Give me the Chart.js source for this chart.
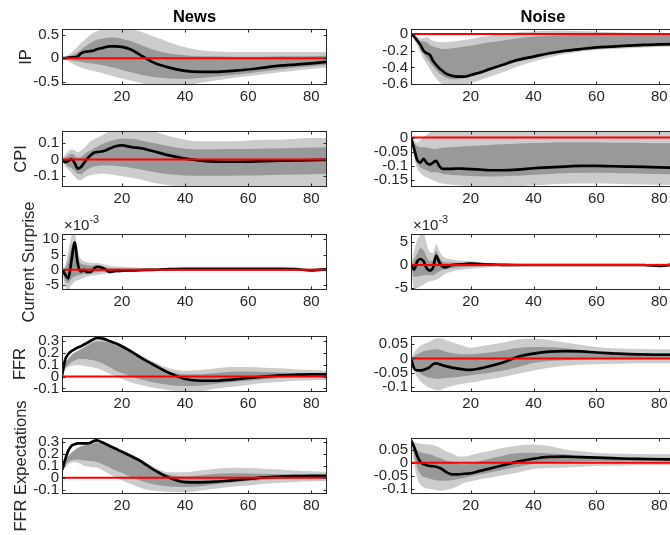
<!DOCTYPE html>
<html>
<head>
<meta charset="utf-8">
<script src="https://cdn.jsdelivr.net/npm/chart.js@4.4.1/dist/chart.umd.min.js"></script>
<style>
  html, body { margin: 0; padding: 0; background: #fff; }
  body { width: 670px; height: 535px; position: relative; overflow: hidden; }
  canvas { position: absolute; }
</style>
</head>
<body>
<script>
const FONT = '"Liberation Sans", Arial, Helvetica, sans-serif';
const INK = '#262626';
const LIGHT = '#cccccc';
const DARK = '#999999';

// horizon (months) shared by every response
const horizon = [1,2,3,4,5,6,7,8,9,10,11,12,14,16,18,20,23,26,30,35,40,45,50,55,60,65,70,75,80,85];
const xTicks = [20, 40, 60, 80];
const zeroSpan = [1, 85];
const zeroLine = [0, 0];

// IP
const ipNewsMed   = [0,0,0.01,0.02,0.02,0.04,0.1,0.13,0.14,0.15,0.16,0.19,0.22,0.25,0.25,0.24,0.18,0.06,-0.09,-0.2,-0.27,-0.29,-0.29,-0.27,-0.24,-0.2,-0.16,-0.135,-0.11,-0.08];
const ipNewsOutHi = [0,0.03,0.07,0.12,0.18,0.25,0.32,0.38,0.44,0.5,0.54,0.57,0.61,0.64,0.65,0.65,0.62,0.56,0.46,0.34,0.23,0.17,0.14,0.13,0.13,0.13,0.13,0.13,0.13,0.13];
const ipNewsOutLo = [0,-0.03,-0.07,-0.1,-0.14,-0.17,-0.2,-0.22,-0.24,-0.26,-0.27,-0.29,-0.32,-0.36,-0.4,-0.43,-0.48,-0.53,-0.58,-0.6,-0.57,-0.52,-0.47,-0.42,-0.38,-0.34,-0.3,-0.26,-0.23,-0.2];
const ipNewsInHi  = [0,0.01,0.03,0.06,0.09,0.13,0.18,0.23,0.28,0.32,0.36,0.39,0.42,0.44,0.44,0.41,0.36,0.28,0.18,0.1,0.06,0.04,0.04,0.03,0.03,0.03,0.04,0.04,0.04,0.05];
const ipNewsInLo  = [0,-0.01,-0.03,-0.05,-0.06,-0.07,-0.08,-0.09,-0.1,-0.11,-0.12,-0.13,-0.15,-0.18,-0.21,-0.25,-0.3,-0.35,-0.4,-0.43,-0.44,-0.42,-0.39,-0.36,-0.32,-0.28,-0.24,-0.2,-0.17,-0.14];

const ipNoiseMed   = [0,-0.03,-0.08,-0.13,-0.2,-0.23,-0.25,-0.32,-0.37,-0.41,-0.44,-0.47,-0.5,-0.51,-0.51,-0.49,-0.46,-0.42,-0.37,-0.31,-0.27,-0.23,-0.2,-0.18,-0.16,-0.15,-0.14,-0.13,-0.125,-0.12];
const ipNoiseOutHi = [0,-0.02,-0.04,-0.05,-0.05,-0.04,-0.06,-0.08,-0.09,-0.1,-0.1,-0.1,-0.09,-0.08,-0.07,-0.06,-0.04,-0.02,0,0.02,0.03,0.04,0.04,0.035,0.03,0.02,0.015,0.01,0.01,0.005];
const ipNoiseOutLo = [0,-0.06,-0.14,-0.22,-0.3,-0.36,-0.42,-0.48,-0.53,-0.57,-0.6,-0.62,-0.63,-0.63,-0.62,-0.59,-0.55,-0.51,-0.46,-0.39,-0.33,-0.28,-0.24,-0.21,-0.19,-0.18,-0.17,-0.16,-0.155,-0.15];
const ipNoiseInHi  = [0,-0.03,-0.06,-0.08,-0.09,-0.1,-0.13,-0.15,-0.16,-0.17,-0.18,-0.18,-0.17,-0.16,-0.15,-0.14,-0.12,-0.1,-0.08,-0.05,-0.03,-0.02,-0.015,-0.01,-0.01,-0.01,-0.012,-0.012,-0.013,-0.015];
const ipNoiseInLo  = [0,-0.04,-0.1,-0.18,-0.24,-0.29,-0.34,-0.39,-0.43,-0.47,-0.5,-0.52,-0.54,-0.54,-0.53,-0.51,-0.48,-0.44,-0.39,-0.33,-0.29,-0.25,-0.22,-0.19,-0.175,-0.16,-0.15,-0.145,-0.14,-0.135];

// CPI
const cpiNewsMed   = [0,-0.015,-0.008,0.003,-0.02,-0.055,-0.045,-0.02,0.005,0.025,0.04,0.045,0.05,0.065,0.08,0.085,0.075,0.068,0.05,0.025,0.006,-0.006,-0.012,-0.013,-0.012,-0.009,-0.007,-0.005,-0.003,-0.002];
const cpiNewsOutHi = [0,0.03,0.05,0.06,0.055,0.045,0.055,0.07,0.09,0.11,0.12,0.13,0.15,0.17,0.19,0.2,0.2,0.19,0.17,0.14,0.12,0.11,0.11,0.11,0.115,0.12,0.12,0.125,0.13,0.13];
const cpiNewsOutLo = [0,-0.04,-0.06,-0.08,-0.1,-0.12,-0.125,-0.11,-0.1,-0.095,-0.09,-0.088,-0.086,-0.088,-0.095,-0.1,-0.11,-0.12,-0.14,-0.155,-0.165,-0.17,-0.17,-0.17,-0.17,-0.17,-0.17,-0.17,-0.165,-0.16];
const cpiNewsInHi  = [0,0.012,0.025,0.035,0.025,0.012,0.015,0.03,0.045,0.055,0.065,0.075,0.095,0.11,0.12,0.125,0.125,0.115,0.1,0.08,0.065,0.062,0.062,0.063,0.064,0.066,0.068,0.07,0.072,0.074];
const cpiNewsInLo  = [0,-0.025,-0.04,-0.05,-0.07,-0.085,-0.088,-0.075,-0.06,-0.05,-0.042,-0.038,-0.036,-0.036,-0.038,-0.042,-0.05,-0.06,-0.075,-0.088,-0.096,-0.098,-0.098,-0.097,-0.096,-0.094,-0.092,-0.09,-0.088,-0.086];

const cpiNoiseMed   = [0,-0.04,-0.08,-0.088,-0.075,-0.09,-0.095,-0.088,-0.082,-0.1,-0.11,-0.11,-0.11,-0.109,-0.11,-0.111,-0.113,-0.115,-0.115,-0.113,-0.108,-0.105,-0.102,-0.1,-0.1,-0.101,-0.102,-0.103,-0.105,-0.106];
const cpiNoiseOutHi = [0,-0.01,-0.015,-0.01,0,0.01,0.018,0.025,0.03,0.03,0.03,0.03,0.03,0.03,0.03,0.03,0.03,0.03,0.03,0.03,0.03,0.03,0.03,0.03,0.03,0.03,0.03,0.03,0.03,0.03];
const cpiNoiseOutLo = [0,-0.07,-0.11,-0.125,-0.135,-0.14,-0.145,-0.15,-0.155,-0.16,-0.162,-0.164,-0.166,-0.168,-0.17,-0.17,-0.172,-0.175,-0.175,-0.172,-0.168,-0.165,-0.163,-0.162,-0.162,-0.163,-0.164,-0.165,-0.166,-0.167];
const cpiNoiseInHi  = [0,-0.02,-0.03,-0.035,-0.033,-0.035,-0.038,-0.04,-0.04,-0.038,-0.036,-0.035,-0.033,-0.032,-0.031,-0.03,-0.028,-0.026,-0.024,-0.021,-0.019,-0.018,-0.017,-0.017,-0.017,-0.018,-0.018,-0.019,-0.02,-0.02];
const cpiNoiseInLo  = [0,-0.055,-0.09,-0.105,-0.11,-0.115,-0.12,-0.122,-0.122,-0.124,-0.127,-0.13,-0.132,-0.133,-0.134,-0.135,-0.136,-0.137,-0.136,-0.134,-0.131,-0.128,-0.126,-0.125,-0.124,-0.125,-0.126,-0.127,-0.128,-0.129];

// Current surprise, in units of 1e-3
const surpNewsMed   = [0,-1.5,-2.8,3,9,2,-0.5,0,-0.8,-0.8,0.2,1,0.6,-0.7,-0.4,-0.3,-0.2,-0.1,0,0.2,0.3,0.3,0.3,0.3,0.3,0.3,0.3,0.2,-0.2,0.2];
const surpNewsOutHi = [0,1.5,6,11,12,6,3.5,2.8,2.5,2.3,2.2,2.2,1.8,1.3,1.1,1,0.8,0.6,0.5,0.4,0.4,0.4,0.4,0.4,0.4,0.4,0.4,0.4,0.5,0.6];
const surpNewsOutLo = [0,-5.5,-6.5,-5,-3.8,-3.4,-3,-2.5,-2.2,-2,-1.8,-1.7,-1.4,-1.1,-0.9,-0.8,-0.6,-0.5,-0.4,-0.3,-0.3,-0.3,-0.3,-0.3,-0.3,-0.3,-0.3,-0.3,-0.4,-0.5];
const surpNewsInHi  = [0,0.5,3,7.5,9.5,4,2,1.7,1.5,1.4,1.4,1.4,1,0.6,0.5,0.45,0.4,0.35,0.3,0.3,0.3,0.3,0.3,0.3,0.3,0.3,0.3,0.3,0.3,0.3];
const surpNewsInLo  = [0,-3.5,-4.3,-3,-2.2,-1.8,-1.6,-1.4,-1.2,-1,-0.9,-0.8,-0.6,-0.5,-0.4,-0.35,-0.3,-0.2,-0.1,-0.1,-0.1,-0.1,-0.1,-0.1,-0.1,-0.1,-0.1,-0.1,-0.1,-0.1];

const surpNoiseMed   = [0,-1,0.8,1.3,0.8,-0.7,-1.2,-0.6,2,0.6,-0.3,-0.5,0,0.1,0.2,0.3,0.2,0.1,0.05,0,0,0,0,0,0,0,0,0,-0.2,0.2];
const surpNoiseOutHi = [0,3,5.5,6.5,6.8,4.5,2.8,2.6,4.5,3,2,1.5,1.2,1,0.9,0.8,0.6,0.45,0.35,0.25,0.2,0.2,0.2,0.2,0.2,0.2,0.2,0.2,0.3,0.4];
const surpNoiseOutLo = [0,-5.2,-5,-4.6,-4.2,-3.8,-3.5,-3.4,-3.2,-2.8,-2.3,-1.9,-1.4,-1.1,-0.9,-0.8,-0.6,-0.5,-0.4,-0.3,-0.25,-0.25,-0.25,-0.25,-0.25,-0.25,-0.25,-0.25,-0.35,-0.4];
const surpNoiseInHi  = [0,1.2,2.5,3.6,3.2,1.8,0.8,1.2,3,1.6,0.8,0.6,0.55,0.5,0.5,0.45,0.35,0.25,0.2,0.15,0.12,0.12,0.12,0.12,0.12,0.12,0.12,0.12,0.15,0.2];
const surpNoiseInLo  = [0,-2.6,-2.5,-2.3,-2.2,-2.1,-2.2,-2.2,-1.8,-1.4,-1,-0.9,-0.7,-0.55,-0.45,-0.4,-0.3,-0.25,-0.2,-0.15,-0.12,-0.12,-0.12,-0.12,-0.12,-0.12,-0.12,-0.12,-0.15,-0.2];

// FFR
const ffrNewsMed   = [0.01,0.14,0.19,0.215,0.23,0.245,0.255,0.27,0.285,0.3,0.315,0.325,0.32,0.3,0.28,0.255,0.21,0.16,0.1,0.03,-0.02,-0.035,-0.035,-0.025,-0.012,0,0.01,0.015,0.018,0.018];
const ffrNewsOutHi = [0.01,0.1,0.15,0.18,0.2,0.22,0.235,0.25,0.27,0.285,0.3,0.31,0.31,0.3,0.285,0.265,0.225,0.18,0.125,0.07,0.05,0.055,0.07,0.08,0.08,0.075,0.07,0.06,0.055,0.05];
const ffrNewsOutLo = [0,0.06,0.08,0.09,0.095,0.095,0.095,0.09,0.085,0.08,0.075,0.07,0.05,0.025,0,-0.02,-0.05,-0.07,-0.095,-0.115,-0.13,-0.125,-0.1,-0.085,-0.07,-0.055,-0.045,-0.035,-0.03,-0.028];
const ffrNewsInHi  = [0.01,0.11,0.15,0.18,0.2,0.215,0.23,0.245,0.26,0.275,0.29,0.295,0.295,0.285,0.265,0.245,0.205,0.16,0.1,0.045,0.02,0.02,0.03,0.04,0.042,0.038,0.034,0.03,0.027,0.025];
const ffrNewsInLo  = [0,0.07,0.1,0.12,0.135,0.145,0.148,0.148,0.145,0.14,0.138,0.13,0.11,0.08,0.05,0.03,0,-0.025,-0.05,-0.07,-0.08,-0.075,-0.06,-0.045,-0.035,-0.022,-0.012,-0.006,-0.003,-0.002];

const ffrNoiseMed   = [0,-0.035,-0.042,-0.042,-0.04,-0.036,-0.03,-0.02,-0.017,-0.02,-0.024,-0.027,-0.032,-0.036,-0.039,-0.04,-0.035,-0.027,-0.015,0.006,0.017,0.024,0.026,0.025,0.021,0.018,0.015,0.014,0.013,0.013];
const ffrNoiseOutHi = [0,0.02,0.035,0.045,0.05,0.055,0.06,0.066,0.07,0.072,0.07,0.065,0.058,0.05,0.043,0.038,0.043,0.048,0.055,0.067,0.07,0.065,0.056,0.048,0.04,0.036,0.034,0.033,0.032,0.032];
const ffrNoiseOutLo = [0,-0.045,-0.065,-0.08,-0.09,-0.098,-0.104,-0.108,-0.111,-0.112,-0.108,-0.104,-0.097,-0.092,-0.088,-0.085,-0.079,-0.073,-0.066,-0.054,-0.042,-0.033,-0.026,-0.022,-0.02,-0.019,-0.018,-0.017,-0.017,-0.017];
const ffrNoiseInHi  = [0,0.008,0.015,0.02,0.025,0.028,0.03,0.031,0.032,0.031,0.028,0.024,0.019,0.016,0.015,0.015,0.017,0.021,0.027,0.037,0.04,0.039,0.036,0.03,0.024,0.021,0.02,0.019,0.018,0.018];
const ffrNoiseInLo  = [0,-0.03,-0.043,-0.052,-0.06,-0.065,-0.068,-0.07,-0.071,-0.071,-0.07,-0.069,-0.067,-0.065,-0.062,-0.059,-0.055,-0.05,-0.043,-0.03,-0.016,-0.009,-0.006,-0.004,-0.002,-0.001,0,0,0.001,0.001];

// FFR expectations
const expNewsMed   = [0.065,0.15,0.225,0.265,0.278,0.285,0.285,0.285,0.285,0.29,0.305,0.31,0.29,0.265,0.24,0.216,0.178,0.137,0.068,0,-0.036,-0.038,-0.033,-0.022,-0.01,0.003,0.01,0.014,0.016,0.016];
const expNewsOutHi = [0.065,0.12,0.17,0.2,0.22,0.24,0.255,0.265,0.275,0.285,0.295,0.3,0.29,0.27,0.25,0.23,0.19,0.15,0.09,0.045,0.045,0.06,0.074,0.082,0.08,0.075,0.068,0.06,0.053,0.047];
const expNewsOutLo = [0.03,0.08,0.11,0.125,0.13,0.125,0.115,0.1,0.095,0.09,0.088,0.085,0.06,0.03,0.005,-0.02,-0.055,-0.085,-0.108,-0.118,-0.12,-0.105,-0.09,-0.075,-0.065,-0.05,-0.042,-0.035,-0.03,-0.027];
const expNewsInHi  = [0.065,0.13,0.18,0.21,0.23,0.25,0.262,0.27,0.275,0.28,0.285,0.29,0.275,0.255,0.235,0.215,0.175,0.135,0.075,0.025,0.011,0.02,0.033,0.038,0.036,0.033,0.03,0.028,0.026,0.025];
const expNewsInLo  = [0.05,0.1,0.13,0.145,0.15,0.15,0.148,0.145,0.14,0.138,0.137,0.13,0.11,0.085,0.06,0.04,0.005,-0.025,-0.055,-0.072,-0.077,-0.07,-0.055,-0.04,-0.028,-0.016,-0.01,-0.006,-0.004,-0.003];

const expNoiseMed   = [0.087,0.06,0.025,0.003,-0.006,-0.01,-0.013,-0.014,-0.016,-0.02,-0.026,-0.035,-0.045,-0.045,-0.043,-0.041,-0.032,-0.023,-0.011,0.004,0.015,0.022,0.023,0.021,0.019,0.017,0.015,0.014,0.013,0.012];
const expNoiseOutHi = [0.087,0.08,0.075,0.073,0.072,0.071,0.07,0.068,0.064,0.058,0.052,0.045,0.035,0.024,0.024,0.028,0.038,0.045,0.056,0.066,0.07,0.064,0.051,0.044,0.038,0.035,0.034,0.033,0.032,0.032];
const expNoiseOutLo = [0.087,-0.005,-0.06,-0.085,-0.095,-0.1,-0.102,-0.104,-0.106,-0.108,-0.108,-0.106,-0.1,-0.09,-0.078,-0.072,-0.064,-0.058,-0.05,-0.038,-0.025,-0.021,-0.019,-0.016,-0.013,-0.012,-0.011,-0.01,-0.01,-0.01];
const expNoiseInHi  = [0.087,0.07,0.05,0.04,0.036,0.034,0.032,0.028,0.022,0.019,0.014,0.008,0.002,-0.004,-0.006,-0.004,0.006,0.015,0.026,0.037,0.038,0.035,0.032,0.027,0.023,0.021,0.02,0.019,0.019,0.019];
const expNoiseInLo  = [0.087,0.03,-0.02,-0.045,-0.055,-0.058,-0.062,-0.065,-0.068,-0.07,-0.07,-0.07,-0.068,-0.063,-0.058,-0.053,-0.045,-0.038,-0.028,-0.016,-0.004,0.002,0.003,0.005,0.006,0.006,0.006,0.006,0.006,0.006];

const panels = [
  { row: 0, col: 0, title: 'News', label: 'IP', labelPad: 17, yMin: -0.57, yMax: 0.62, yTicks: [-0.5, 0, 0.5],
    med: ipNewsMed, outHi: ipNewsOutHi, outLo: ipNewsOutLo, inHi: ipNewsInHi, inLo: ipNewsInLo },
  { row: 0, col: 1, title: 'Noise', yMin: -0.61, yMax: 0.06, yTicks: [-0.6, -0.4, -0.2, 0],
    med: ipNoiseMed, outHi: ipNoiseOutHi, outLo: ipNoiseOutLo, inHi: ipNoiseInHi, inLo: ipNoiseInLo },
  { row: 1, col: 0, label: 'CPI', labelPad: 11.5, yMin: -0.165, yMax: 0.172, yTicks: [-0.1, 0, 0.1],
    med: cpiNewsMed, outHi: cpiNewsOutHi, outLo: cpiNewsOutLo, inHi: cpiNewsInHi, inLo: cpiNewsInLo },
  { row: 1, col: 1, yMin: -0.174, yMax: 0.023, yTicks: [-0.15, -0.1, -0.05, 0],
    med: cpiNoiseMed, outHi: cpiNoiseOutHi, outLo: cpiNoiseOutLo, inHi: cpiNoiseInHi, inLo: cpiNoiseInLo },
  { row: 2, col: 0, label: 'Current Surprise', labelPad: 20, exponent: '-3', yMin: -6.6, yMax: 11.7, yTicks: [-5, 0, 5, 10],
    med: surpNewsMed, outHi: surpNewsOutHi, outLo: surpNewsOutLo, inHi: surpNewsInHi, inLo: surpNewsInLo },
  { row: 2, col: 1, exponent: '-3', yMin: -5.4, yMax: 6.7, yTicks: [-5, 0, 5],
    med: surpNoiseMed, outHi: surpNoiseOutHi, outLo: surpNoiseOutLo, inHi: surpNoiseInHi, inLo: surpNoiseInLo },
  { row: 3, col: 0, label: 'FFR', labelPad: 11, yMin: -0.13, yMax: 0.342, yTicks: [-0.1, 0, 0.1, 0.2, 0.3],
    med: ffrNewsMed, outHi: ffrNewsOutHi, outLo: ffrNewsOutLo, inHi: ffrNewsInHi, inLo: ffrNewsInLo },
  { row: 3, col: 1, yMin: -0.118, yMax: 0.079, yTicks: [-0.1, -0.05, 0, 0.05],
    med: ffrNoiseMed, outHi: ffrNoiseOutHi, outLo: ffrNoiseOutLo, inHi: ffrNoiseInHi, inLo: ffrNoiseInLo },
  { row: 4, col: 0, label: 'FFR Expectations', labelPad: 11.5, yMin: -0.135, yMax: 0.33, yTicks: [-0.1, 0, 0.1, 0.2, 0.3],
    med: expNewsMed, outHi: expNewsOutHi, outLo: expNewsOutLo, inHi: expNewsInHi, inLo: expNewsInLo },
  { row: 4, col: 1, yMin: -0.121, yMax: 0.095, yTicks: [-0.1, -0.05, 0, 0.05],
    med: expNoiseMed, outHi: expNoiseOutHi, outLo: expNoiseOutLo, inHi: expNoiseInHi, inLo: expNoiseInLo }
];

const rowTops = [29, 131, 234, 336, 438];
const plotH = 56;
const columns = [
  { left: 0, width: 335, axisW: 62, padRight: 8 },
  { left: 340, width: 340, axisW: 71, padRight: 5 }
];

const fmt = v => String(Math.round(v * 1000) / 1000);
const pts = ys => horizon.map((x, i) => ({ x, y: ys[i] }));

// MATLAB-style box with inward tick marks, plus the x10^n multiplier
const axesFrame = {
  id: 'axesFrame',
  afterDraw(chart, args, opts) {
    const { ctx, chartArea: a, scales } = chart;
    const l = Math.round(a.left) + 0.5, r = Math.round(a.right) - 0.5;
    const t = Math.round(a.top) + 0.5, b = Math.round(a.bottom) - 0.5;
    ctx.save();
    ctx.strokeStyle = INK;
    ctx.lineWidth = 1;
    ctx.strokeRect(l, t, r - l, b - t);
    ctx.beginPath();
    scales.x.ticks.forEach(tk => {
      const px = Math.round(scales.x.getPixelForValue(tk.value)) + 0.5;
      ctx.moveTo(px, b); ctx.lineTo(px, b - 3);
      ctx.moveTo(px, t); ctx.lineTo(px, t + 3);
    });
    scales.y.ticks.forEach(tk => {
      const py = Math.round(scales.y.getPixelForValue(tk.value)) + 0.5;
      ctx.moveTo(l, py); ctx.lineTo(l + 3, py);
      ctx.moveTo(r, py); ctx.lineTo(r - 3, py);
    });
    ctx.stroke();
    if (opts && opts.exponent) {
      ctx.fillStyle = INK;
      ctx.textAlign = 'left';
      ctx.textBaseline = 'alphabetic';
      ctx.font = `15px ${FONT}`;
      const base = '\u00d710';
      ctx.fillText(base, a.left + 2, a.top - 4);
      const w = ctx.measureText(base).width;
      ctx.font = `11px ${FONT}`;
      ctx.fillText(opts.exponent, a.left + 2 + w, a.top - 11);
    }
    ctx.restore();
  }
};

const band = (data, color, fill, order) => ({
  data: pts(data), fill, backgroundColor: color, borderColor: 'rgba(0,0,0,0)', borderWidth: 1,
  pointRadius: 0, cubicInterpolationMode: 'monotone', clip: 0, order
});

panels.forEach(p => {
  const col = columns[p.col];
  const top = rowTops[p.row];
  const cTop = p.row === 0 ? 0 : top - 40;
  const padTop = p.row === 0 ? 0 : 40;
  const height = (top - cTop) + plotH + 40;

  const canvas = document.createElement('canvas');
  canvas.width = col.width;
  canvas.height = height;
  canvas.style.left = col.left + 'px';
  canvas.style.top = cTop + 'px';
  canvas.style.width = col.width + 'px';
  canvas.style.height = height + 'px';
  document.body.appendChild(canvas);

  new Chart(canvas, {
    type: 'line',
    data: {
      datasets: [
        band(p.outHi, LIGHT, '+1', 5),
        band(p.outLo, LIGHT, false, 5),
        band(p.inHi, DARK, '+1', 4),
        band(p.inLo, DARK, false, 4),
        { data: pts(p.med), borderColor: '#000', borderWidth: 2.7, pointRadius: 0,
          cubicInterpolationMode: 'monotone', fill: false, clip: 0, order: 2 },
        { data: zeroSpan.map((x, i) => ({ x, y: zeroLine[i] })), borderColor: '#ff0000', borderWidth: 2,
          pointRadius: 0, fill: false, clip: 0, order: 1 }
      ]
    },
    options: {
      responsive: false,
      animation: false,
      events: [],
      layout: { autoPadding: false, padding: { top: padTop, right: col.padRight, left: 0, bottom: 0 } },
      scales: {
        x: {
          type: 'linear', min: 1, max: 85,
          afterBuildTicks: s => { s.ticks = xTicks.map(v => ({ value: v })); },
          afterFit: s => { s.height = 40; },
          grid: { display: false, drawTicks: false },
          border: { display: false },
          ticks: { font: { family: FONT, size: 15 }, color: INK, padding: 3, autoSkip: false, maxRotation: 0,
                   callback: v => String(v) }
        },
        y: {
          type: 'linear', min: p.yMin, max: p.yMax,
          afterBuildTicks: s => { s.ticks = p.yTicks.map(v => ({ value: v })); },
          afterFit: s => { s.width = col.axisW; },
          grid: { display: false, drawTicks: false },
          border: { display: false },
          ticks: { font: { family: FONT, size: 15 }, color: INK, padding: 3, autoSkip: false, callback: fmt },
          title: p.label
            ? { display: true, text: p.label, color: INK, font: { family: FONT, size: 16.5 },
                padding: { top: p.labelPad, bottom: 0 } }
            : { display: false }
        }
      },
      plugins: {
        legend: { display: false },
        tooltip: { enabled: false },
        title: p.title
          ? { display: true, text: p.title, fullSize: false, color: '#000',
              font: { family: FONT, size: 16.5, weight: 'bold' }, padding: { top: 7.6, bottom: 1.6 } }
          : { display: false },
        axesFrame: { exponent: p.exponent || null }
      }
    },
    plugins: [axesFrame]
  });
});
</script>
</body>
</html>
